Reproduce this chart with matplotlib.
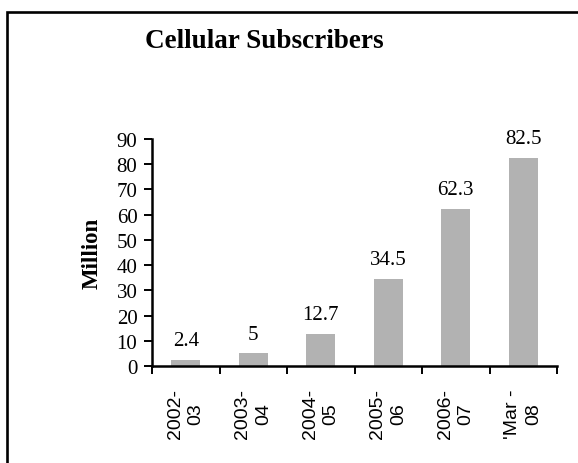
import matplotlib.pyplot as plt
from matplotlib.patches import Rectangle
from matplotlib.ticker import FixedLocator, NullFormatter, FixedFormatter

# === data ===
periods = ["2002-\n03", "2003-\n04", "2004-\n05", "2005-\n06", "2006-\n07", "'Mar -\n08"]
subscribers = [2.4, 5, 12.7, 34.5, 62.3, 82.5]
y_ticks = [0, 10, 20, 30, 40, 50, 60, 70, 80, 90]

serif = "Liberation Serif"
sans = "Liberation Sans"

fig = plt.figure(figsize=(5.78, 4.64), dpi=100)
W, H = 578, 464

# === outer frame (cut by the image edge on the right and bottom) ===
fig.patches.append(Rectangle((7 / W, -0.05), 1.2, 1 - 13 / H + 0.05,
                             transform=fig.transFigure, fill=False,
                             edgecolor="black", linewidth=1.9))

# === axes area ===
ax = fig.add_axes([152 / W, (H - 367) / H, 405 / W, (367 - 140) / H])

x = list(range(len(periods)))
ax.bar(x, subscribers, width=0.43, color="#b2b2b2", zorder=2)

for xi, v in zip(x, subscribers):
    ax.annotate(f"{v:g}", (xi, v), xytext=(0, 7), textcoords="offset points",
                ha="center", va="bottom", family=serif, fontsize=15)

ax.set_xlim(-0.5, len(periods) - 0.5)
ax.set_ylim(0, 90)

for s in ["top", "right"]:
    ax.spines[s].set_visible(False)
for s in ["left", "bottom"]:
    ax.spines[s].set_linewidth(1.8)

# y axis
ax.set_yticks(y_ticks)
ax.set_yticklabels([str(t) for t in y_ticks], family=serif, fontsize=15)
ax.tick_params(axis="y", direction="out", length=5.5, width=1.4, pad=5)

# x axis: tick marks between categories, labels at category centres
ax.xaxis.set_major_locator(FixedLocator([i - 0.5 for i in range(len(periods) + 1)]))
ax.xaxis.set_major_formatter(NullFormatter())
ax.xaxis.set_minor_locator(FixedLocator(x))
ax.xaxis.set_minor_formatter(FixedFormatter(periods))
ax.tick_params(axis="x", which="major", direction="out", length=5.5, width=1.4)
ax.tick_params(axis="x", which="minor", length=0, pad=16)
for lbl in ax.xaxis.get_minorticklabels():
    lbl.set_rotation(90)
    lbl.set_family(sans)
    lbl.set_fontsize(14)
    lbl.set_multialignment("center")
    lbl.set_linespacing(1.3)

ax.set_ylabel("Million", family=serif, fontsize=16.5, fontweight="bold")
ax.yaxis.set_label_coords(-0.121, 0.5)

# === title ===
fig.text(264 / W, 1 - 42 / H, "Cellular Subscribers", family=serif,
         fontsize=19.5, fontweight="bold", ha="center", va="center")

fig.savefig("out.png", dpi=100)
